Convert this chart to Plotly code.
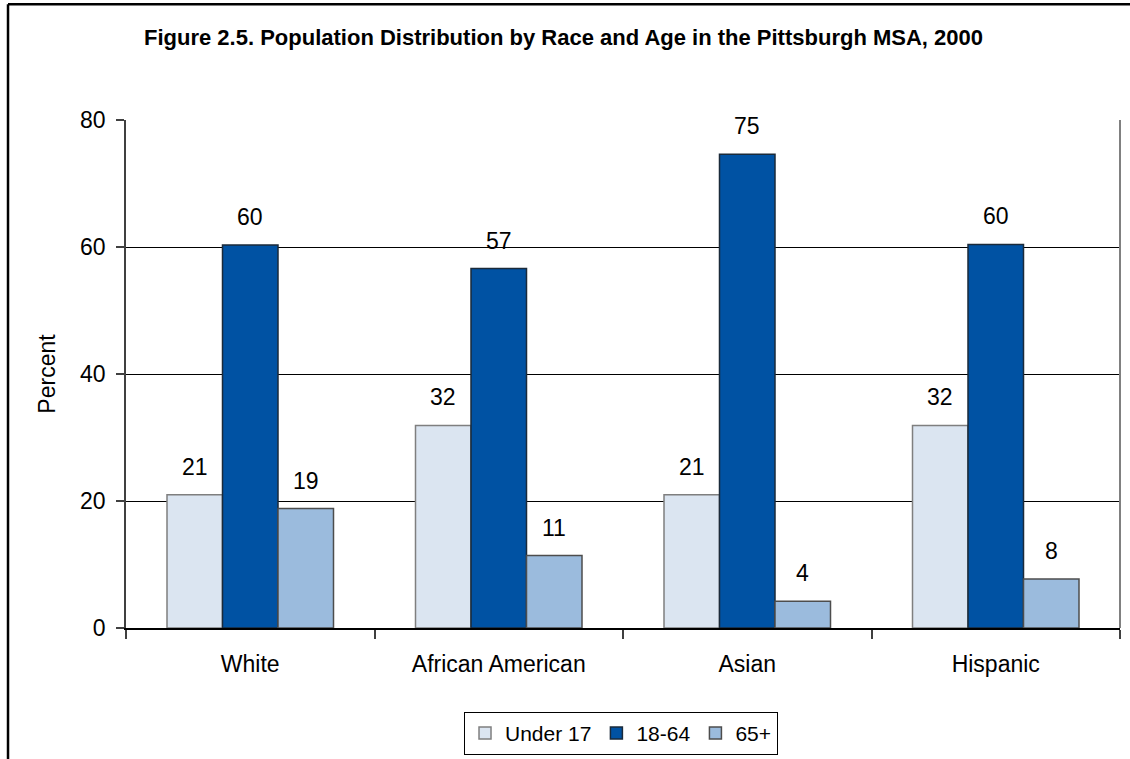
import plotly.graph_objects as go

races = ["White", "African American", "Asian", "Hispanic"]
age_groups = ["Under 17", "18-64", "65+"]
under_17 = [21.0, 31.9, 21.0, 31.9]
age_18_64 = [60.3, 56.6, 74.6, 60.4]
age_65_plus = [18.8, 11.4, 4.2, 7.7]
y_ticks = [0, 20, 40, 60, 80]

series = [under_17, age_18_64, age_65_plus]
fills = ["#DBE5F1", "#0052A3", "#9BBBDD"]
edges = ["#7f7f7f", "#1a2a3a", "#4d4d4d"]

FONT = "Liberation Sans, Arial, sans-serif"
BARGAP = 0.33

fig = go.Figure()
for name, vals, fill, edge in zip(age_groups, series, fills, edges):
    fig.add_trace(go.Bar(
        x=races, y=vals, name=name,
        marker=dict(color=fill, line=dict(color=edge, width=1.5)),
    ))

# value labels above each bar
w = (1 - BARGAP) / len(series)
for j, vals in enumerate(series):
    for i, v in enumerate(vals):
        fig.add_annotation(
            x=i + (j - 1) * w, y=v, xref="x", yref="y",
            text=f"{v:.0f}", showarrow=False,
            yanchor="middle", yshift=28,
            font=dict(family=FONT, size=23, color="black"),
        )

# outer frame (left and top edges) and plot right border
fig.add_shape(type="line", xref="paper", yref="paper",
              x0=-0.1187, x1=-0.1187, y0=1.228, y1=-0.3,
              line=dict(color="black", width=2.5))
fig.add_shape(type="line", xref="paper", yref="paper",
              x0=-0.1187, x1=1.05, y0=1.228, y1=1.228,
              line=dict(color="black", width=2.5))
fig.add_shape(type="line", xref="paper", yref="paper",
              x0=1, x1=1, y0=0, y1=1,
              line=dict(color="#808080", width=2))

fig.update_layout(
    width=1130, height=759,
    margin=dict(l=126, r=10, t=120, b=131, autoexpand=False),
    paper_bgcolor="white", plot_bgcolor="white",
    font=dict(family=FONT, size=23, color="black"),
    barmode="group", bargap=BARGAP, bargroupgap=0,
    title=dict(
        text="<b>Figure 2.5. Population Distribution by Race and Age in the Pittsburgh MSA, 2000</b>",
        xref="container", x=0.4987, xanchor="center",
        yref="container", y=0.951, yanchor="middle",
        font=dict(family=FONT, size=22, color="black"),
    ),
    legend=dict(
        orientation="h", x=0.498, xanchor="center", y=-0.165, yanchor="top",
        bordercolor="black", borderwidth=1,
        font=dict(family=FONT, size=21, color="black"),
        itemwidth=30, tracegroupgap=0,
    ),
    showlegend=True,
)

fig.update_xaxes(
    type="category", tickson="boundaries", automargin=False,
    ticks="outside", ticklen=9, tickcolor="#404040", tickwidth=1.5,
    showline=True, linecolor="black", linewidth=1.5,
    showgrid=False, ticklabelstandoff=15,
    tickfont=dict(family=FONT, size=23, color="black"),
)
fig.update_yaxes(
    range=[0, 80], tickvals=y_ticks, automargin=False,
    ticks="outside", ticklen=8, tickcolor="#404040", tickwidth=1.5,
    showline=True, linecolor="#404040", linewidth=1.5,
    showgrid=True, gridcolor="black", gridwidth=1,
    zeroline=False, ticklabelstandoff=6,
    tickfont=dict(family=FONT, size=23, color="black"),
    title=dict(text="Percent", standoff=18,
               font=dict(family=FONT, size=23, color="black")),
)

# drop the browser's default page margin so the figure sits at the window corner
fig.write_html("out.html", config={"displayModeBar": False},
               post_script="document.body.style.margin='0';")
